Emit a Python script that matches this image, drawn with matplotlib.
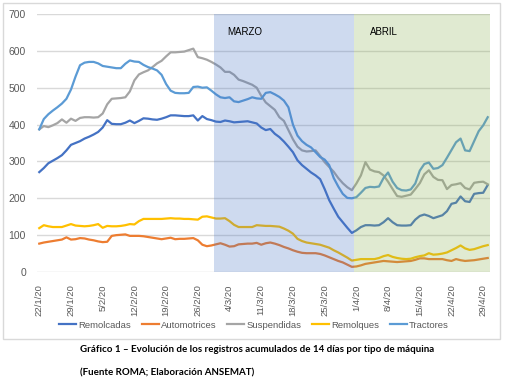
import pandas as pd
from matplotlib import pyplot as plt
from matplotlib.lines import Line2D
from matplotlib.patches import Rectangle

# registros acumulados de 14 dias, diarios desde 22/1/20 hasta 30/4/20
fechas = pd.date_range("2020-01-22", "2020-04-30", freq="D")

remolcadas = [271, 282, 295, 302, 309, 317, 330, 345, 350, 355,
              362, 367, 373, 380, 392, 412, 402, 401, 401, 405,
              411, 404, 410, 417, 416, 414, 413, 416, 420, 425,
              425, 424, 423, 423, 425, 411, 423, 415, 412, 408,
              407, 411, 409, 406, 407, 408, 409, 406, 403, 392,
              385, 388, 375, 366, 354, 340, 325, 303, 290, 280,
              270, 262, 252, 225, 195, 172, 150, 135, 120, 106,
              113, 122, 127, 127, 126, 127, 135, 146, 135, 127,
              126, 126, 127, 142, 152, 156, 152, 146, 150, 154,
              165, 185, 188, 205, 192, 190, 212, 214, 215, 236]

automotrices = [77, 80, 82, 84, 86, 88, 94, 88, 89, 92,
                91, 88, 86, 83, 81, 82, 98, 100, 101, 102,
                98, 98, 98, 97, 95, 93, 91, 89, 91, 93,
                89, 90, 90, 91, 92, 86, 74, 70, 72, 75,
                78, 74, 69, 70, 75, 76, 77, 77, 79, 74,
                78, 80, 77, 73, 68, 64, 59, 55, 52, 51,
                51, 51, 49, 45, 40, 35, 30, 26, 20, 14,
                15, 18, 22, 24, 26, 28, 30, 29, 28, 27,
                28, 29, 30, 33, 37, 37, 35, 35, 35, 35,
                32, 30, 35, 32, 30, 31, 32, 34, 36, 38]

suspendidas = [387, 396, 393, 398, 404, 414, 405, 416, 410, 418,
               420, 420, 419, 420, 430, 455, 470, 471, 472, 474,
               490, 520, 536, 542, 547, 556, 566, 573, 585, 596,
               596, 597, 598, 602, 606, 583, 580, 576, 570, 563,
               555, 543, 543, 535, 522, 518, 513, 508, 500, 478,
               460, 450, 440, 420, 410, 385, 360, 340, 330, 327,
               328, 330, 315, 298, 285, 272, 255, 241, 230, 222,
               240, 262, 298, 278, 273, 271, 262, 245, 225, 206,
               204, 207, 210, 225, 241, 265, 276, 258, 250, 249,
               225, 236, 238, 241, 228, 224, 242, 244, 245, 238]

remolques = [119, 127, 124, 122, 122, 122, 126, 130, 126, 125,
             124, 125, 127, 130, 120, 125, 124, 124, 125, 127,
             130, 129, 138, 144, 144, 144, 144, 144, 145, 146,
             145, 145, 144, 144, 143, 142, 150, 151, 148, 145,
             145, 146, 138, 128, 122, 122, 122, 122, 127, 126,
             125, 125, 124, 123, 118, 112, 104, 90, 84, 80,
             78, 76, 74, 70, 66, 59, 53, 46, 39, 31,
             33, 35, 35, 35, 35, 38, 43, 46, 41, 38,
             36, 35, 36, 40, 43, 45, 51, 47, 48, 50,
             53, 59, 65, 72, 64, 60, 62, 66, 70, 73]

tractores = [387, 415, 428, 438, 447, 457, 470, 495, 530, 561,
             568, 570, 570, 566, 559, 557, 555, 553, 553, 565,
             574, 571, 570, 562, 556, 552, 547, 535, 510, 492,
             486, 485, 485, 486, 502, 503, 500, 501, 492, 482,
             474, 472, 474, 463, 461, 465, 469, 474, 471, 470,
             486, 488, 482, 475, 465, 447, 400, 370, 355, 345,
             338, 325, 312, 305, 290, 255, 232, 212, 201, 200,
             203, 215, 228, 231, 230, 232, 255, 270, 245, 228,
             222, 221, 224, 240, 275, 293, 297, 280, 282, 290,
             310, 331, 352, 362, 330, 328, 355, 382, 398, 420]

series = {
    "Remolcadas": (remolcadas, "#4472C4"),
    "Automotrices": (automotrices, "#ED7D31"),
    "Suspendidas": (suspendidas, "#A5A5A5"),
    "Remolques": (remolques, "#FFC000"),
    "Tractores": (tractores, "#5B9BD5"),
}

etiquetas = ["{0}/{1}/20".format(f.day, f.month) for f in fechas]
gris = "#595959"

fig = plt.figure(figsize=(5.06, 3.9), dpi=100)
fig.patches.append(Rectangle((3 / 506, 1 - 339 / 390), 497 / 506, 336 / 390,
                             transform=fig.transFigure, fill=False,
                             edgecolor="#D9D9D9", linewidth=1))

ax = fig.add_axes([37 / 506, 1 - 272 / 390, 453 / 506, 258 / 390])
x = range(len(fechas))
for nombre, (valores, color) in series.items():
    ax.plot(x, valores, color=color, linewidth=1.6, zorder=2)

# meses marcados
ax.axvspan(38.5, 69.5, color="#4472C4", alpha=0.26, lw=0, zorder=3)
ax.axvspan(69.5, 99.5, color="#8DB255", alpha=0.27, lw=0, zorder=3)
ax.text(41.5, 650, "MARZO", fontsize=7, family="Liberation Sans", va="center", zorder=4)
ax.text(73, 650, "ABRIL", fontsize=7, family="Liberation Sans", va="center", zorder=4)

ax.set_xlim(-0.5, 99.5)
ax.set_ylim(0, 700)
ax.set_yticks(range(0, 701, 100))
ax.grid(axis="y", color="#D9D9D9", linewidth=1, zorder=1)
ax.set_axisbelow(True)
for s in ax.spines.values():
    s.set_visible(False)

pos = list(range(0, len(fechas), 7))
ax.set_xticks(pos)
ax.set_xticklabels([etiquetas[i] for i in pos], rotation=90, va="top")
ax.tick_params(axis="x", length=0, pad=9, labelsize=6.8, labelcolor=gris)
ax.tick_params(axis="y", length=0, pad=8, labelsize=7.5, labelcolor=gris)
for lab in ax.get_xticklabels() + ax.get_yticklabels():
    lab.set_family("Liberation Sans")

handles = [Line2D([], [], color=c, linewidth=1.6) for _, c in series.values()]
fig.legend(handles, list(series.keys()), loc="center", ncol=5,
           bbox_to_anchor=(254 / 506, 1 - 325 / 390), frameon=False,
           prop={"family": "Liberation Sans", "size": 6.8}, labelcolor=gris,
           handlelength=1.8, handletextpad=0.25, columnspacing=1.1)

fig.text(80 / 506, 1 - 349 / 390,
         "Gráfico 1 – Evolución de los registros acumulados de 14 días por tipo de máquina",
         fontsize=7.0, fontweight="bold", family="Lato", va="center")
fig.text(80 / 506, 1 - 373 / 390, "(Fuente ROMA; Elaboración ANSEMAT)",
         fontsize=7.0, fontweight="bold", family="Lato", va="center")

fig.savefig("out.png", dpi=100)
